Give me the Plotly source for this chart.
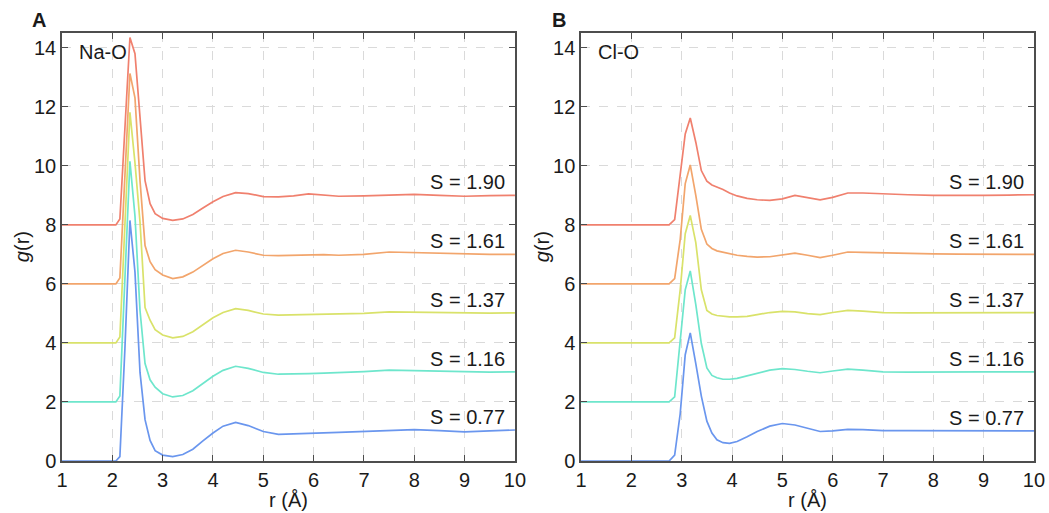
import plotly.graph_objects as go
from plotly.subplots import make_subplots

# ---------------- data ----------------
S_labels = ["S = 0.77", "S = 1.16", "S = 1.37", "S = 1.61", "S = 1.90"]
offsets = [0, 2, 4, 6, 8]
colors = ["#6a96ee", "#6ee6cc", "#d9e26a", "#f2a56c", "#f0806e"]

# Panel A: Na-O
r_naO = [1.0, 2.0, 2.07, 2.15, 2.25, 2.35, 2.45, 2.55, 2.65, 2.75, 2.85, 3.0, 3.2, 3.4,
         3.6, 3.8, 4.0, 4.2, 4.45, 4.7, 5.0, 5.3, 5.6, 5.9, 6.2, 6.5, 7.0, 7.5, 8.0,
         8.5, 9.0, 9.5, 10.0]
g_naO_077 = [0, 0, 0, 0.15, 3.8, 8.15, 6.4, 3.0, 1.4, 0.7, 0.35, 0.2, 0.15, 0.22,
             0.4, 0.68, 0.95, 1.18, 1.31, 1.2, 1.0, 0.9, 0.91, 0.93, 0.95, 0.97, 1.0, 1.04, 1.06,
             1.03, 0.99, 1.02, 1.05]
g_naO_116 = [0, 0, 0, 0.2, 4.0, 8.15, 6.3, 3.1, 1.3, 0.75, 0.5, 0.28, 0.17, 0.22,
             0.38, 0.62, 0.87, 1.07, 1.21, 1.14, 1.0, 0.94, 0.94, 0.96, 0.98, 0.99, 1.03, 1.08, 1.06,
             1.03, 1.01, 1.01, 1.02]
g_naO_137 = [0, 0, 0, 0.2, 3.9, 7.81, 6.1, 4.1, 1.2, 0.77, 0.45, 0.27, 0.17, 0.22,
             0.38, 0.62, 0.85, 1.03, 1.16, 1.1, 0.98, 0.94, 0.95, 0.97, 0.97, 0.98, 1.0, 1.05, 1.04,
             1.01, 1.0, 1.01, 1.02]
g_naO_161 = [0, 0, 0, 0.2, 3.6, 7.13, 6.3, 3.5, 1.3, 0.75, 0.48, 0.3, 0.18, 0.24,
             0.4, 0.62, 0.85, 1.03, 1.14, 1.08, 0.97, 0.96, 0.97, 1.0, 0.99, 0.97, 1.0, 1.08, 1.06,
             1.02, 1.0, 1.0, 1.0]
g_naO_190 = [0, 0, 0, 0.2, 3.3, 6.35, 5.8, 3.7, 1.5, 0.72, 0.38, 0.22, 0.15, 0.2,
             0.35, 0.57, 0.78, 0.96, 1.09, 1.06, 0.96, 0.95, 0.98, 1.05, 1.01, 0.97, 0.98, 1.01, 1.03,
             1.0, 0.97, 0.99, 1.0]

# Panel B: Cl-O
r_clO = [1.0, 2.75, 2.86, 2.97, 3.07, 3.17, 3.28, 3.39, 3.5, 3.6, 3.7, 3.82, 3.95, 4.1,
         4.3, 4.5, 4.75, 5.0, 5.25, 5.5, 5.75, 6.0, 6.3, 6.6, 7.0, 7.5, 8.0, 8.5, 9.0,
         9.5, 10.0]
g_clO_077 = [0, 0, 0.2, 1.6, 3.6, 4.34, 3.3, 2.2, 1.35, 0.95, 0.72, 0.62, 0.6, 0.66,
             0.82, 1.0, 1.18, 1.27, 1.22, 1.1, 1.0, 1.02, 1.07, 1.06, 1.03, 1.03, 1.03, 1.02, 1.02,
             1.02, 1.02]
g_clO_116 = [0, 0, 0.17, 2.0, 3.8, 4.44, 3.3, 1.98, 1.15, 0.9, 0.82, 0.77, 0.77, 0.8,
             0.88, 0.98, 1.08, 1.13, 1.1, 1.04, 0.99, 1.05, 1.11, 1.08, 1.02, 1.01, 1.02, 1.02, 1.02,
             1.02, 1.02]
g_clO_137 = [0, 0, 0.17, 1.8, 3.7, 4.32, 3.4, 1.8, 1.1, 0.98, 0.93, 0.9, 0.88, 0.88,
             0.9, 0.96, 1.03, 1.07, 1.05, 0.99, 0.96, 1.03, 1.1, 1.08, 1.03, 1.02, 1.02, 1.02, 1.03,
             1.03, 1.03]
g_clO_161 = [0, 0, 0.18, 1.5, 3.4, 4.03, 3.0, 1.85, 1.35, 1.2, 1.12, 1.08, 1.02, 0.97,
             0.93, 0.91, 0.92, 0.97, 1.04, 0.97, 0.89, 0.97, 1.08, 1.07, 1.05, 1.03, 1.02, 1.01, 1.0,
             1.0, 1.0]
g_clO_190 = [0, 0, 0.18, 1.7, 3.08, 3.62, 2.8, 1.84, 1.48, 1.35, 1.28, 1.2, 1.08, 0.98,
             0.9, 0.85, 0.83, 0.88, 1.0, 0.92, 0.85, 0.93, 1.08, 1.08, 1.05, 1.02, 1.0, 0.99, 1.0,
             1.01, 1.02]

series_A = [g_naO_077, g_naO_116, g_naO_137, g_naO_161, g_naO_190]
series_B = [g_clO_077, g_clO_116, g_clO_137, g_clO_161, g_clO_190]

x_ticks = [1, 2, 3, 4, 5, 6, 7, 8, 9, 10]
y_ticks = [0, 2, 4, 6, 8, 10, 12, 14]

# ---------------- figure ----------------
FONT = "Liberation Sans, Arial, Helvetica, sans-serif"
fig = make_subplots(rows=1, cols=2, horizontal_spacing=0.068)

for col, (r, series) in enumerate([(r_naO, series_A), (r_clO, series_B)], start=1):
    for g, off, c, lab in zip(series, offsets, colors, S_labels):
        fig.add_trace(go.Scatter(x=r, y=[v + off for v in g], mode="lines",
                                 line=dict(color=c, width=1.7), name=lab,
                                 showlegend=False, hoverinfo="skip"),
                      row=1, col=col)
        xr = "x" if col == 1 else "x2"
        yr = "y" if col == 1 else "y2"
        fig.add_annotation(x=9.85, y=g[-1] + off, xref=xr, yref=yr, text=lab,
                           showarrow=False, xanchor="right", yanchor="bottom",
                           yshift=0, font=dict(size=20, color="#1a1a1a", family=FONT))

axis_common = dict(showline=True, linecolor="#4d4d4d", linewidth=1.5, mirror="ticks",
                   ticks="inside", ticklen=6, tickwidth=1.3, tickcolor="#4d4d4d",
                   showgrid=True, gridcolor="#dadada", griddash="dash", gridwidth=1,
                   zeroline=False, automargin=False,
                   tickfont=dict(size=20, color="#1a1a1a", family=FONT))

for i in (1, 2):
    fig.update_xaxes(range=[1, 10], tickvals=x_ticks, ticktext=[str(t) for t in x_ticks],
                     row=1, col=i, **axis_common)
    fig.update_yaxes(range=[0, 14.5], tickvals=y_ticks, ticktext=[str(t) for t in y_ticks],
                     row=1, col=i, **axis_common)

fig.update_layout(
    width=1049, height=513, autosize=False,
    margin=dict(l=62, r=15, t=33, b=52, autoexpand=False),
    paper_bgcolor="white", plot_bgcolor="white",
    font=dict(family=FONT, color="#1a1a1a"),
)

fig.update_xaxes(domain=[0, 0.466], row=1, col=1)
fig.update_xaxes(domain=[0.534, 1.0], row=1, col=2)

ann = [
    dict(text="<b>A</b>", x=-0.024, y=1.03, size=20, angle=0),
    dict(text="<b>B</b>", x=0.511, y=1.03, size=20, angle=0),
    dict(text="<i>g</i>(r)", x=-0.041, y=0.5, size=20, angle=-90),
    dict(text="<i>g</i>(r)", x=0.494, y=0.5, size=20, angle=-90),
    dict(text="r (Å)", x=0.233, y=-0.091, size=20, angle=0),
    dict(text="r (Å)", x=0.767, y=-0.091, size=20, angle=0),
]
for a in ann:
    fig.add_annotation(text=a["text"], x=a["x"], y=a["y"], xref="paper", yref="paper",
                       showarrow=False, textangle=a["angle"],
                       xanchor="center", yanchor="middle",
                       font=dict(size=a["size"], color="#1a1a1a", family=FONT))

fig.add_annotation(text="Na-O", x=1.3, y=14.3, xref="x", yref="y", showarrow=False,
                   xanchor="left", yanchor="top", font=dict(size=20, color="#1a1a1a", family=FONT))
fig.add_annotation(text="Cl-O", x=1.3, y=14.3, xref="x2", yref="y2", showarrow=False,
                   xanchor="left", yanchor="top", font=dict(size=20, color="#1a1a1a", family=FONT))

fig.write_html(
    "out.html",
    config={"responsive": False, "displayModeBar": False},
    post_script="document.body.style.margin='0';document.body.style.overflow='hidden';",
)
